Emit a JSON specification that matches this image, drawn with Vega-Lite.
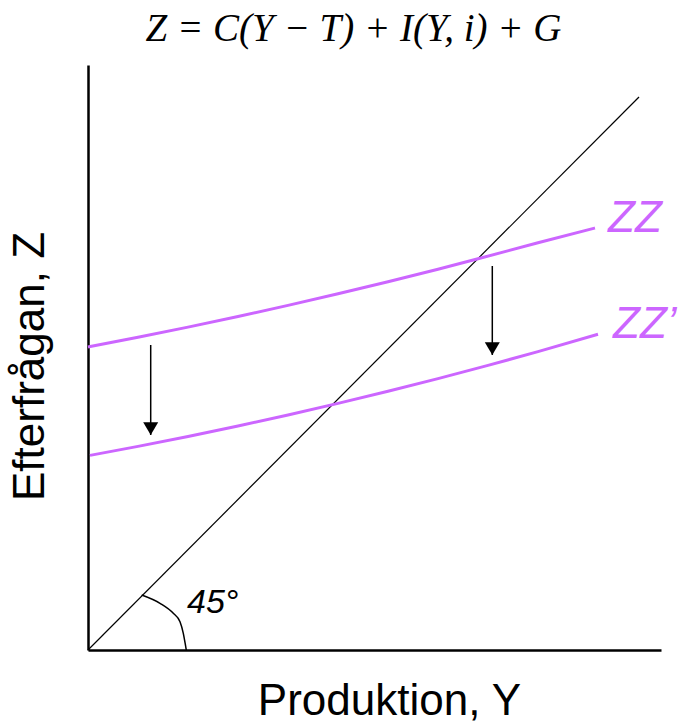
{
  "$schema": "https://vega.github.io/schema/vega-lite/v6.json",
  "width": 573,
  "height": 585,
  "autosize": {"type": "none"},
  "padding": {"left": 88, "top": 65, "right": 20, "bottom": 74},
  "background": "white",
  "title": {
    "text": "Z = C(Y − T) + I(Y, i) + G",
    "font": "Liberation Serif",
    "fontStyle": "italic",
    "fontSize": 39,
    "fontWeight": "normal",
    "color": "black",
    "anchor": "middle",
    "dx": -21,
    "offset": 16
  },
  "config": {
    "view": {"stroke": null},
    "axis": {
      "grid": false,
      "ticks": false,
      "labels": false,
      "domainColor": "black",
      "domainWidth": 2.5,
      "titleFont": "Liberation Sans",
      "titleFontSize": 44,
      "titleFontWeight": "normal",
      "titleColor": "black"
    }
  },
  "datasets": {
    "diag": [{"x": 0, "y": 0}, {"x": 551, "y": 553}],
    "curves": [
      {"series": "ZZ", "x": 0, "y": 303},
      {"series": "ZZ", "x": 50, "y": 312.7},
      {"series": "ZZ", "x": 100, "y": 322.9},
      {"series": "ZZ", "x": 150, "y": 333.5},
      {"series": "ZZ", "x": 200, "y": 344.6},
      {"series": "ZZ", "x": 250, "y": 356.2},
      {"series": "ZZ", "x": 300, "y": 368.3},
      {"series": "ZZ", "x": 350, "y": 380.8},
      {"series": "ZZ", "x": 390, "y": 391.2},
      {"series": "ZZ", "x": 450, "y": 407.3},
      {"series": "ZZ", "x": 507, "y": 422},
      {"series": "ZZ'", "x": 2, "y": 194.6},
      {"series": "ZZ'", "x": 50, "y": 203.6},
      {"series": "ZZ'", "x": 100, "y": 213.5},
      {"series": "ZZ'", "x": 150, "y": 224.0},
      {"series": "ZZ'", "x": 200, "y": 235.0},
      {"series": "ZZ'", "x": 250, "y": 246.6},
      {"series": "ZZ'", "x": 300, "y": 258.8},
      {"series": "ZZ'", "x": 350, "y": 271.4},
      {"series": "ZZ'", "x": 400, "y": 284.6},
      {"series": "ZZ'", "x": 450, "y": 298.4},
      {"series": "ZZ'", "x": 510, "y": 315.7}
    ],
    "arc": [
      {"x": 53.7, "y": 55},
      {"x": 72, "y": 46.7},
      {"x": 85.3, "y": 36.7},
      {"x": 92, "y": 28.3},
      {"x": 95.3, "y": 16.7},
      {"x": 98, "y": 1.7},
      {"x": 98.3, "y": 0}
    ],
    "arrows": [
      {"x": 62.7, "top": 305, "tip": 215},
      {"x": 404.3, "top": 384, "tip": 295}
    ],
    "zzlabels": [
      {"x": 520, "y": 418, "label": "ZZ"},
      {"x": 525, "y": 312, "label": "ZZ’"}
    ],
    "angle": [{"x": 99, "y": 37, "label": "45°"}]
  },
  "layer": [
    {
      "data": {"name": "diag"},
      "mark": {"type": "line", "color": "black", "strokeWidth": 1.2},
      "encoding": {
        "x": {"field": "x", "type": "quantitative", "scale": {"domain": [0, 573], "nice": false, "zero": false}, "axis": {"title": "Produktion, Y", "titlePadding": 29, "titleX": 301}},
        "y": {"field": "y", "type": "quantitative", "scale": {"domain": [0, 585], "nice": false, "zero": false}, "axis": {"title": "Efterfrågan, Z", "titlePadding": 36, "titleY": 301}}
      }
    },
    {
      "data": {"name": "curves"},
      "mark": {"type": "line", "color": "#cc66ff", "strokeWidth": 3, "interpolate": "monotone"},
      "encoding": {
        "x": {"field": "x", "type": "quantitative"},
        "y": {"field": "y", "type": "quantitative"},
        "detail": {"field": "series"}
      }
    },
    {
      "data": {"name": "arc"},
      "mark": {"type": "line", "color": "black", "strokeWidth": 1.5, "interpolate": "monotone"},
      "encoding": {
        "x": {"field": "x", "type": "quantitative"},
        "y": {"field": "y", "type": "quantitative"}
      }
    },
    {
      "data": {"name": "arrows"},
      "mark": {"type": "rule", "color": "black", "strokeWidth": 1.5},
      "encoding": {
        "x": {"field": "x", "type": "quantitative"},
        "y": {"field": "top", "type": "quantitative"},
        "y2": {"field": "tip"}
      }
    },
    {
      "data": {"name": "arrows"},
      "mark": {"type": "point", "shape": "M -1 -1.7 L 1 -1.7 L 0 0 Z", "filled": true, "color": "black", "opacity": 1, "size": 225, "strokeWidth": 0},
      "encoding": {
        "x": {"field": "x", "type": "quantitative"},
        "y": {"field": "tip", "type": "quantitative"}
      }
    },
    {
      "data": {"name": "zzlabels"},
      "mark": {"type": "text", "align": "left", "baseline": "alphabetic", "font": "Liberation Sans", "fontStyle": "italic", "fontSize": 44, "color": "#cc66ff"},
      "encoding": {
        "x": {"field": "x", "type": "quantitative"},
        "y": {"field": "y", "type": "quantitative"},
        "text": {"field": "label"}
      }
    },
    {
      "data": {"name": "angle"},
      "mark": {"type": "text", "align": "left", "baseline": "alphabetic", "font": "Liberation Sans", "fontStyle": "italic", "fontSize": 34, "color": "black"},
      "encoding": {
        "x": {"field": "x", "type": "quantitative"},
        "y": {"field": "y", "type": "quantitative"},
        "text": {"field": "label"}
      }
    }
  ]
}
